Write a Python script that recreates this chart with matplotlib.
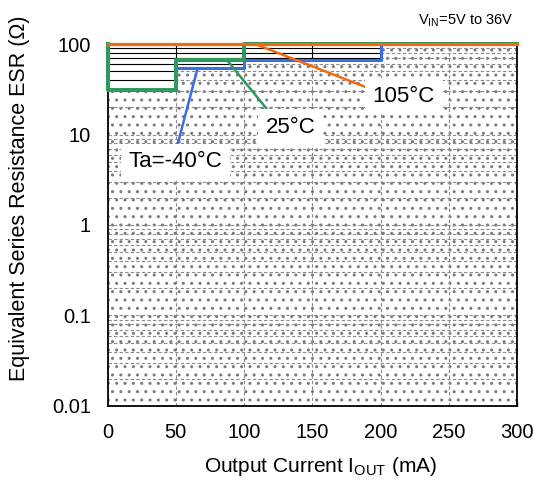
import numpy as np
import matplotlib
matplotlib.use("Agg")
import matplotlib.pyplot as plt
from matplotlib.ticker import FixedLocator, FixedFormatter, LogLocator, NullFormatter

plt.rcParams['font.family'] = ['Liberation Sans', 'DejaVu Sans']
plt.rcParams['hatch.linewidth'] = 1.0
plt.rcParams['mathtext.fontset'] = 'custom'
plt.rcParams['mathtext.rm'] = 'Liberation Sans'

# ---- data ----
current_ma = [0, 50, 100, 200, 300]
esr_limit_m40 = [31, 54, 66, 100, 100]
esr_limit_25 = [31, 66, 100, 100, 100]
esr_limit_105 = [100, 100, 100, 100, 100]
x_ticks = [0, 50, 100, 150, 200, 250, 300]
y_ticks = [0.01, 0.1, 1, 10, 100]
y_tick_labels = ["0.01", "0.1", "1", "10", "100"]
labels = ["Ta=-40°C", "25°C", "105°C"]

C_BLUE = "#3a6ee8"
C_GREEN = "#2e9a5e"
C_ORANGE = "#f26a10"

fig = plt.figure(figsize=(5.33, 4.8), dpi=100)
ax = fig.add_axes([0.2017, 0.1542, 0.7683, 0.7541])
ax.set_yscale('log')
ax.set_xlim(0, 300)
ax.set_ylim(0.01, 100)

minor_y = LogLocator(base=10, subs=np.arange(2, 10)).tick_values(0.01, 100)
minor_y = [v for v in minor_y if 0.01 < v < 100]
grid_y = sorted(set(list(minor_y) + y_ticks[1:-1]))
grid_x = x_ticks[1:-1]

for v in grid_y:
    ax.axhline(v, color='black', lw=0.8, zorder=1)
for v in grid_x:
    ax.axvline(v, color='black', lw=0.8, zorder=1)

x = np.array(current_ma, dtype=float)
stable_top = np.minimum(np.minimum(esr_limit_m40, esr_limit_25), esr_limit_105)
fill = ax.fill_between(x, 0.01, stable_top, step='post', facecolor='white',
                       edgecolor='#7a7a7a', hatch='..', linewidth=0, zorder=2)
clip_path = fill.get_paths()[0]

for v in grid_y:
    ln = ax.axhline(v, color='#8a8a8a', lw=0.8, ls=(0, (3, 2)), zorder=3)
    ln.set_clip_path(clip_path, ax.transData)
for v in grid_x:
    ln = ax.axvline(v, color='#8a8a8a', lw=0.8, ls=(0, (3, 2)), zorder=3)
    ln.set_clip_path(clip_path, ax.transData)

ytop = ax.get_ylim()[1]
ax.step(x, esr_limit_m40, where='post', color=C_BLUE, lw=2.2, zorder=5, clip_on=False)
ax.step(np.r_[x[0], x], np.r_[ytop, esr_limit_25], where='post', color=C_GREEN,
        lw=2.9, zorder=6, clip_on=False)
ax.step(x, esr_limit_105, where='post', color=C_ORANGE, lw=2.3, zorder=7, clip_on=False)

bbox = dict(boxstyle='square,pad=0.35', fc='white', ec='none')
ax.annotate(labels[0], xy=(66, 54), xytext=(50, 4.97), fontsize=16, ha='center', va='center',
            bbox=bbox, zorder=8,
            arrowprops=dict(arrowstyle='-', color=C_BLUE, lw=1.8, relpos=(0.5, 1.0),
                            shrinkA=0, shrinkB=0))
ax.annotate(labels[1], xy=(88, 65), xytext=(134, 12.1), fontsize=16, ha='center', va='center',
            bbox=bbox, zorder=8,
            arrowprops=dict(arrowstyle='-', color=C_GREEN, lw=1.8, relpos=(0.15, 1.0),
                            shrinkA=0, shrinkB=0))
ax.annotate(labels[2], xy=(108, 100), xytext=(217, 26.6), fontsize=16, ha='center', va='center',
            bbox=bbox, zorder=8,
            arrowprops=dict(arrowstyle='-', color=C_ORANGE, lw=1.8, relpos=(0.0, 0.8),
                            shrinkA=0, shrinkB=0))

ax.xaxis.set_major_locator(FixedLocator(x_ticks))
ax.yaxis.set_major_locator(FixedLocator(y_ticks))
ax.yaxis.set_major_formatter(FixedFormatter(y_tick_labels))
ax.yaxis.set_minor_locator(FixedLocator([]))
ax.yaxis.set_minor_formatter(NullFormatter())
ax.tick_params(axis='both', which='major', labelsize=14.5, direction='in', length=3,
               width=1, pad=9)
ax.tick_params(axis='x', pad=12)
ax.tick_params(axis='y', length=0, pad=12)
for s in ax.spines.values():
    s.set_color('black')
    s.set_linewidth(1.3)
    s.set_zorder(4)
ax.spines['top'].set_visible(False)

ax.set_xlabel(r"Output Current I$_{\mathregular{OUT}}$ (mA)", fontsize=15, va='center')
ax.xaxis.set_label_coords(0.521, -0.166)
ax.set_ylabel("Equivalent Series Resistance ESR (Ω)", fontsize=15.5, va='center')
ax.yaxis.set_label_coords(-0.214, 0.575)
fig.text(0.9625, 0.958, r"V$_{\mathregular{IN}}$=5V to 36V", fontsize=10.5, ha='right', va='center')

fig.savefig("out.png", dpi=100)
